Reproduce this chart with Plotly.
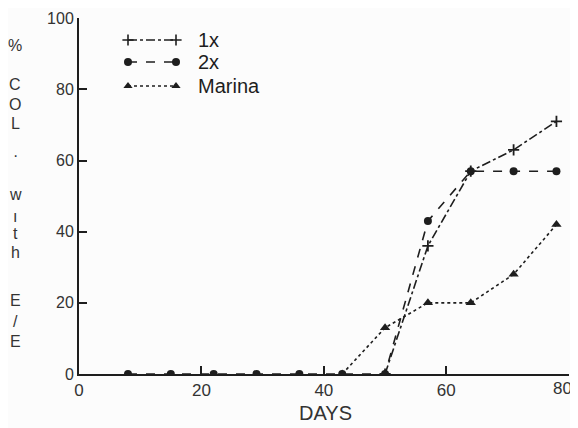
import plotly.graph_objects as go

days = [8, 15, 22, 29, 36, 43, 50, 57, 64, 71, 78]
x1_days = [50, 57, 64, 71, 78]
x1_vals = [0, 36, 57, 63, 71]
x2_vals = [0, 0, 0, 0, 0, 0, 0, 43, 57, 57, 57]
marina_days = [43, 50, 57, 64, 71, 78]
marina_vals = [0, 13, 20, 20, 28, 42]
x_ticks = [0, 20, 40, 60, 80]
y_ticks = [0, 20, 40, 60, 80, 100]
legend_names = ["1x", "2x", "Marina"]

INK = "#1e1e1e"
TXT = "#333333"
FONT = "Liberation Sans, Arial, sans-serif"

# page has an 8px body margin; the figure is sized to fill the rest of the window
OFF = 8
W, H = 578 - OFF, 428 - OFF
L, R, T, B = 79 - OFF, 9, 18 - OFF, 54
PW, PH = W - L - R, H - T - B


def px_x(px):
    return (px - OFF - L) / PW


def px_y(py):
    return 1 - (py - OFF - T) / PH


fig = go.Figure()
fig.add_trace(go.Scatter(x=marina_days, y=marina_vals, mode="lines+markers",
                         line=dict(color=INK, width=1.6, dash="dot"),
                         marker=dict(symbol="triangle-up", size=9, color=INK),
                         showlegend=False))
fig.add_trace(go.Scatter(x=x1_days, y=x1_vals, mode="lines+markers",
                         line=dict(color=INK, width=1.6, dash="dashdot"),
                         marker=dict(symbol="cross-thin", size=8, color=INK,
                                     line=dict(color=INK, width=1.8)),
                         showlegend=False))
fig.add_trace(go.Scatter(x=days, y=x2_vals, mode="lines+markers",
                         line=dict(color=INK, width=1.6, dash="dash"),
                         marker=dict(symbol="circle", size=8, color=INK),
                         showlegend=False))

# Legend drawn on an overlay axis in paper-like units
leg_styles = [
    dict(line=dict(color=INK, width=1.4, dash="dashdot"),
         marker=dict(symbol="cross-thin", size=8, color=INK, line=dict(color=INK, width=1.6))),
    dict(line=dict(color=INK, width=1.4, dash="dash"),
         marker=dict(symbol="circle", size=8, color=INK)),
    dict(line=dict(color=INK, width=1.4, dash="dot"),
         marker=dict(symbol="triangle-up", size=8, color=INK)),
]
leg_px_y = [40, 62, 86]
for name, st, py in zip(legend_names, leg_styles, leg_px_y):
    ly = px_y(py)
    fig.add_trace(go.Scatter(x=[px_x(128), px_x(176)], y=[ly, ly], mode="lines+markers",
                             xaxis="x2", yaxis="y2", showlegend=False, hoverinfo="skip", **st))
    fig.add_annotation(x=px_x(196), y=ly, xref="x2", yref="y2", text=name, showarrow=False,
                       xanchor="left", yanchor="middle",
                       font=dict(family=FONT, size=20, color=INK))

# last x tick label is nudged left so it stays inside the window (as in the reference)
x_ticktext = [str(v) for v in x_ticks[:-1]] + [""]

fig.update_layout(
    width=W, height=H,
    margin=dict(l=L, r=R, t=T, b=B, autoexpand=False),
    paper_bgcolor="#fcfcfc", plot_bgcolor="#fcfcfc",
    font=dict(family=FONT, size=17, color=TXT),
    xaxis=dict(range=[0, 80.05], tickvals=x_ticks, ticktext=x_ticktext, ticks="inside",
               ticklen=8, tickwidth=1.6,
               tickcolor=INK, showline=True, linecolor=INK, linewidth=2, showgrid=False,
               zeroline=False, automargin=False, ticklabeloverflow="allow",
               tickfont=dict(family=FONT, size=17, color=TXT)),
    yaxis=dict(range=[0, 100.05], tickvals=y_ticks, ticks="inside", ticklen=8, tickwidth=1.6,
               tickcolor=INK, showline=True, linecolor=INK, linewidth=2, showgrid=False,
               zeroline=False, automargin=False, ticklabeloverflow="allow",
               tickfont=dict(family=FONT, size=16, color=TXT)),
    xaxis2=dict(range=[0, 1], overlaying="x", visible=False),
    yaxis2=dict(range=[0, 1], overlaying="y", visible=False),
    showlegend=False,
)

fig.add_annotation(x=x_ticks[-1], y=0, xref="x", yref="paper", yshift=-3,
                   text=str(x_ticks[-1]), showarrow=False, xanchor="center", yanchor="top",
                   xshift=-6, font=dict(family=FONT, size=17, color=TXT))

# x-axis title
fig.add_annotation(x=px_x(325), y=px_y(413), xref="paper", yref="paper",
                   text="DAYS", showarrow=False, xanchor="center", yanchor="middle",
                   font=dict(family=FONT, size=20, color=TXT))

# Stacked vertical y-axis title letters
ytitle_chars = ["%", "C", "O", "L", "·", "w", "ı", "t", "h", "E", "/", "E"]
ytitle_px = [45, 85, 104, 124, 155, 194, 216, 233, 252, 300, 321, 341]
for ch, py in zip(ytitle_chars, ytitle_px):
    fig.add_annotation(x=px_x(15), y=px_y(py), xref="paper", yref="paper",
                       text=ch, showarrow=False, xanchor="center", yanchor="middle",
                       font=dict(family=FONT, size=16, color=TXT))

fig.write_html("out.html")
